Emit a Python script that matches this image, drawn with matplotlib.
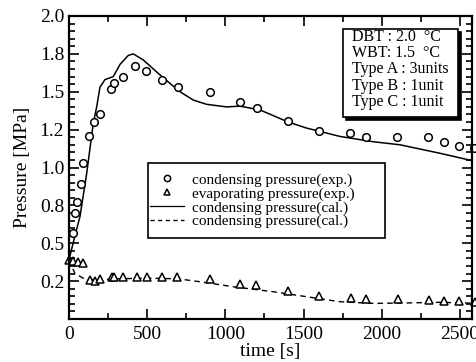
import matplotlib
matplotlib.use("Agg")
import matplotlib.pyplot as plt
from matplotlib.lines import Line2D
from matplotlib.patches import Rectangle
from matplotlib.ticker import MultipleLocator, FormatStrFormatter

plt.rcParams['font.family'] = ['Liberation Serif', 'DejaVu Serif']

cond_exp_t = [28, 40, 50, 75, 92, 128, 158, 198, 268, 286, 345, 424, 494, 595, 699,
              900, 1093, 1200, 1402, 1598, 1797, 1899, 2099, 2297, 2398, 2494, 2591]
cond_exp_p = [0.57, 0.70, 0.77, 0.89, 1.03, 1.21, 1.30, 1.35, 1.52, 1.56, 1.60, 1.67, 1.64,
              1.58, 1.53, 1.50, 1.43, 1.39, 1.31, 1.24, 1.23, 1.20, 1.20, 1.20, 1.17, 1.14, 1.13]

evap_exp_t = [0, 28, 59, 87, 134, 166, 198, 273, 290, 347, 433, 501, 593, 690,
              900, 1093, 1193, 1402, 1598, 1803, 1897, 2101, 2302, 2398, 2496, 2598]
evap_exp_p = [0.39, 0.385, 0.378, 0.368, 0.257, 0.25, 0.262, 0.28, 0.28, 0.28, 0.278, 0.278,
              0.277, 0.276, 0.262, 0.232, 0.222, 0.185, 0.152, 0.137, 0.134, 0.132, 0.123,
              0.121, 0.117, 0.115]

cond_cal_t = [0, 38, 70, 113, 155, 177, 198, 230, 283, 326, 379, 411, 475, 561, 646, 710,
              795, 880, 1008, 1093, 1221, 1402, 1520, 1733, 1946, 2116, 2372, 2600]
cond_cal_p = [0.39, 0.55, 0.675, 0.96, 1.29, 1.40, 1.53, 1.58, 1.60, 1.68, 1.74, 1.75, 1.71,
              1.63, 1.555, 1.50, 1.445, 1.417, 1.40, 1.405, 1.38, 1.30, 1.26, 1.205, 1.17,
              1.15, 1.094, 1.04]

evap_cal_t = [0, 38, 113, 200, 300, 500, 700, 838, 1050, 1306, 1520, 1733, 1946, 2160, 2372, 2600]
evap_cal_p = [0.39, 0.30, 0.257, 0.26, 0.265, 0.27, 0.265, 0.246, 0.213, 0.18, 0.147, 0.114,
              0.103, 0.106, 0.11, 0.104]

legend_labels = ["condensing pressure(exp.)", "evaporating pressure(exp.)",
                 "condensing pressure(cal.)", "condensing pressure(cal.)"]
info_lines = ["DBT : 2.0  \u00b0C", "WBT: 1.5  \u00b0C", "Type A : 3units",
              "Type B : 1unit", "Type C : 1unit"]

fig = plt.figure(figsize=(4.77, 3.62), dpi=100)
ax = fig.add_axes([69/477, 1-319/362, (472-69)/477, (319-16)/362])

ax.plot(cond_cal_t, cond_cal_p, '-', color='black', lw=1.1)
ax.plot(evap_cal_t, evap_cal_p, '--', color='black', lw=1.0, dashes=(4, 3))
ax.plot(cond_exp_t, cond_exp_p, 'o', mfc='white', mec='black', ms=5.5, mew=1.1, clip_on=False)
ax.plot(evap_exp_t, evap_exp_p, '^', mfc='white', mec='black', ms=6, mew=1.1, clip_on=False)

ax.set_xlim(0, 2577)
ax.set_ylim(0, 2.0)
ax.xaxis.set_major_locator(MultipleLocator(500))
ax.xaxis.set_minor_locator(MultipleLocator(250))
ax.yaxis.set_major_locator(MultipleLocator(0.25))
ax.yaxis.set_minor_locator(MultipleLocator(0.05))
ax.yaxis.set_major_formatter(FormatStrFormatter('%.1f'))
ax.set_yticks([0.25, 0.5, 0.75, 1.0, 1.25, 1.5, 1.75, 2.0])
ax.tick_params(which='both', direction='in', top=True, right=True, width=1.2,
               labelsize=14, colors='black')
ax.tick_params(which='major', length=7)
ax.tick_params(which='minor', length=4)
ax.tick_params(axis='x', pad=5)
for s in ax.spines.values():
    s.set_linewidth(1.6)

ax.set_xlabel("time [s]", fontsize=14, labelpad=0)
ax.set_ylabel("Pressure [MPa]", fontsize=14, labelpad=6)

def px2ax(x, y):
    return (x-69)/403, (319-y)/303

# legend frame drawn manually
lx0, ly0 = px2ax(148, 238)
lx1, ly1 = px2ax(385, 163)
ax.add_patch(Rectangle((lx0, ly0), lx1-lx0, ly1-ly0, transform=ax.transAxes,
                       facecolor='white', edgecolor='black', lw=1.2, zorder=4))

handles = [
    Line2D([], [], marker='o', ls='none', mfc='white', mec='black', ms=4.5, mew=1.1),
    Line2D([], [], marker='^', ls='none', mfc='white', mec='black', ms=4.5, mew=1.1),
    Line2D([], [], ls='-', color='black', lw=0.9),
    Line2D([], [], ls='--', color='black', lw=1.0, dashes=(3, 2.5)),
]
leg = ax.legend(handles, legend_labels, loc='upper left',
                bbox_to_anchor=px2ax(150, 173), fontsize=11,
                frameon=False, handlelength=2.2, handletextpad=0.55,
                labelspacing=0.0, borderpad=0.0, borderaxespad=0)
leg.set_zorder(5)

x0, y0 = px2ax(343, 117)
x1, y1 = px2ax(458, 29)
sx, sy = px2ax(346, 120)
ax.add_patch(Rectangle((sx, sy), x1-x0, y1-y0, transform=ax.transAxes,
                       facecolor='black', edgecolor='black', lw=1.2, zorder=5))
ax.add_patch(Rectangle((x0, y0), x1-x0, y1-y0, transform=ax.transAxes,
                       facecolor='white', edgecolor='black', lw=1.2, zorder=6))
for i, line in enumerate(info_lines):
    tx, ty = px2ax(352, 37 + 16.2*i)
    ax.text(tx, ty, line, transform=ax.transAxes, fontsize=11.5, va='center',
            ha='left', zorder=7)

fig.savefig("out.png", dpi=100)
